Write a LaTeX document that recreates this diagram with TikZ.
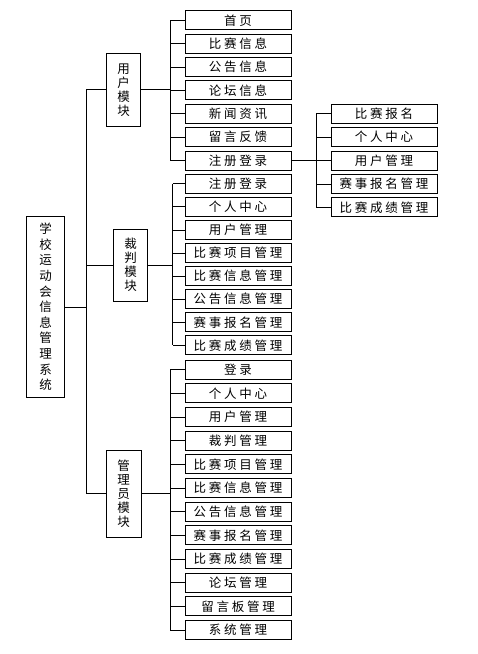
\documentclass[tikz,border=0pt]{standalone}
\usepackage{fontspec}
\newfontfamily\cjk[LetterSpace=22]{Noto Sans CJK SC}
\newfontfamily\cjkv{Noto Sans CJK SC}
\begin{document}
\begin{tikzpicture}[x=1pt,y=-1pt,
  leaf/.style={draw, line width=0.9pt, minimum width=106pt, minimum height=19pt, inner sep=0pt,
    font=\cjk\fontsize{12.5}{14}\selectfont},
  mod/.style={draw, line width=0.9pt, inner sep=0pt, align=center,
    font=\cjkv\fontsize{12.5}{14}\selectfont},
  conn/.style={line width=0.7pt}]
\useasboundingbox (0,0) rectangle (478,654);
% root and modules
\node[mod, minimum width=37.6pt, minimum height=181.7pt, font=\cjkv\fontsize{12.5}{15.6}\selectfont] (root) at (45.5,306.9)
  {学\\校\\运\\动\\会\\信\\息\\管\\理\\系\\统};
\node[mod, minimum width=34pt, minimum height=72.7pt] (um) at (123.7,89.7) {用\\户\\模\\块};
\node[mod, minimum width=34.4pt, minimum height=71.7pt] (jm) at (130.5,265.2) {裁\\判\\模\\块};
\node[mod, minimum width=35pt, minimum height=87.3pt] (am) at (123.5,493.7) {管\\理\\员\\模\\块};
% trunk coordinates
\coordinate (tx) at (86.7,0);
\coordinate (ux) at (170.7,0);
\coordinate (jx) at (172.7,0);
\coordinate (ax) at (170,0);
\coordinate (sx) at (316,0);
% leaves
\foreach \t [count=\i from 0] in {首页,比赛信息,公告信息,论坛信息,新闻资讯,留言反馈,注册登录}
  {\node[leaf] (u\i) at (238,{20.3+23.37*\i}) {\t};
   \draw[conn] (u\i.west) -- (u\i.west -| ux);}
\foreach \t [count=\i from 0] in {注册登录,个人中心,用户管理,比赛项目管理,比赛信息管理,公告信息管理,赛事报名管理,比赛成绩管理}
  {\node[leaf] (j\i) at (238,{183.7+23.09*\i}) {\t};
   \draw[conn] (j\i.west) -- (j\i.west -| jx);}
\foreach \t [count=\i from 0] in {登录,个人中心,用户管理,裁判管理,比赛项目管理,比赛信息管理,公告信息管理,赛事报名管理,比赛成绩管理,论坛管理,留言板管理,系统管理}
  {\node[leaf] (a\i) at (238,{369.7+23.66*\i}) {\t};
   \draw[conn] (a\i.west) -- (a\i.west -| ax);}
\foreach \t [count=\i from 0] in {比赛报名,个人中心,用户管理,赛事报名管理,比赛成绩管理}
  {\node[leaf] (s\i) at (384,{113.8+23.4*\i}) {\t};
   \draw[conn] (s\i.west) -- (s\i.west -| sx);}
% trunks
\draw[conn] (u0.west -| ux) -- (u6.west -| ux);
\draw[conn] (j0.west -| jx) -- (j7.west -| jx);
\draw[conn] (a0.west -| ax) -- (a11.west -| ax);
\draw[conn] (s0.west -| sx) -- (s4.west -| sx);
% module links
\draw[conn] (um.east) -- (um.east -| ux);
\draw[conn] (jm.east) -- (jm.east -| jx);
\draw[conn] (am.east) -- (am.east -| ax);
\draw[conn] (u6.east) -- (u6.east -| sx);
% main trunk
\draw[conn] (root.east) -- (root.east -| tx);
\draw[conn] (um.west) -- (um.west -| tx) |- (am.west);
\draw[conn] (jm.west) -- (jm.west -| tx);
\end{tikzpicture}
\end{document}
